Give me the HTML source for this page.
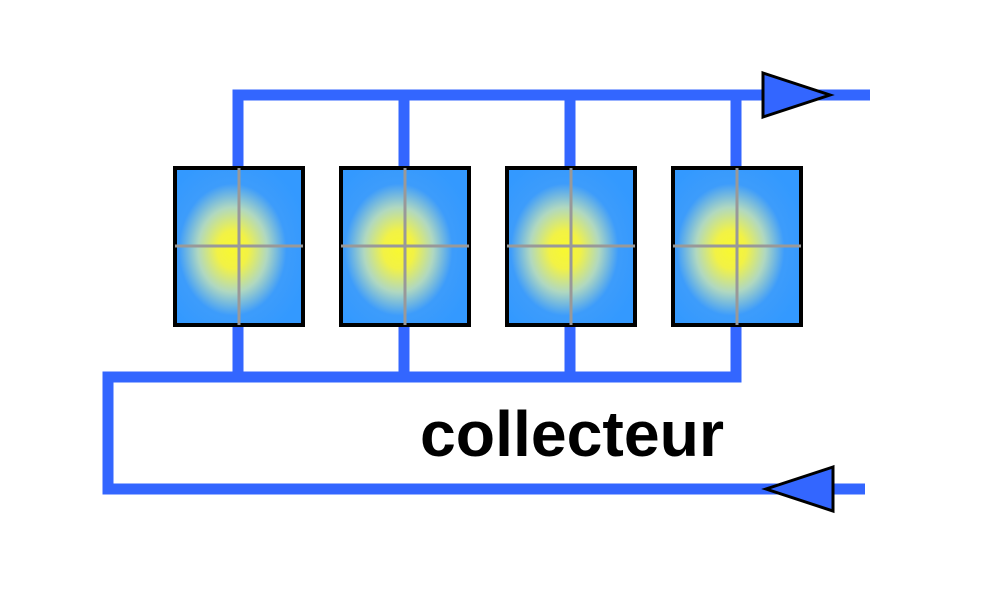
<!DOCTYPE html>
<html><head><style>body{margin:0;background:#fff}</style></head><body>
<svg width="1000" height="590" xmlns="http://www.w3.org/2000/svg">
<defs>
<radialGradient id="g" cx="0.45" cy="0.52" r="0.6" gradientUnits="objectBoundingBox">
<stop offset="0" stop-color="#f8f830"/>
<stop offset="0.2" stop-color="#f2f245"/>
<stop offset="0.45" stop-color="#b0d8c0"/>
<stop offset="0.7" stop-color="#3d9cfb"/>
<stop offset="1" stop-color="#3399ff"/>
</radialGradient>
</defs>
<g stroke="#3366ff" stroke-width="11" fill="none">
<polyline points="238,330 238,95 870,95"/>
<line x1="404" y1="95" x2="404" y2="168"/><line x1="570" y1="95" x2="570" y2="168"/><line x1="736" y1="95" x2="736" y2="168"/>
<line x1="238" y1="325" x2="238" y2="377"/><line x1="404" y1="325" x2="404" y2="377"/><line x1="570" y1="325" x2="570" y2="377"/>
<polyline points="736,325 736,377 108,377 108,489 865,489"/>
</g>
<g stroke="#000" stroke-width="4" fill="url(#g)">
<rect x="175" y="168" width="128" height="157"/>
<rect x="341" y="168" width="128" height="157"/>
<rect x="507" y="168" width="128" height="157"/>
<rect x="673" y="168" width="128" height="157"/>
</g>
<g stroke="#999" stroke-width="3">
<line x1="239" y1="168" x2="239" y2="325"/><line x1="175" y1="246" x2="303" y2="246"/>
<line x1="405" y1="168" x2="405" y2="325"/><line x1="341" y1="246" x2="469" y2="246"/>
<line x1="571" y1="168" x2="571" y2="325"/><line x1="507" y1="246" x2="635" y2="246"/>
<line x1="737" y1="168" x2="737" y2="325"/><line x1="673" y1="246" x2="801" y2="246"/>
</g>
<polygon points="763,73 830,95 763,117" fill="#3366ff" stroke="#000" stroke-width="3"/>
<polygon points="833,467 766,489 833,511" fill="#3366ff" stroke="#000" stroke-width="3"/>
<text x="420" y="456" font-family="Liberation Sans, sans-serif" font-weight="bold" font-size="64" textLength="304" lengthAdjust="spacingAndGlyphs" fill="#000">collecteur</text>
</svg>
</body></html>
